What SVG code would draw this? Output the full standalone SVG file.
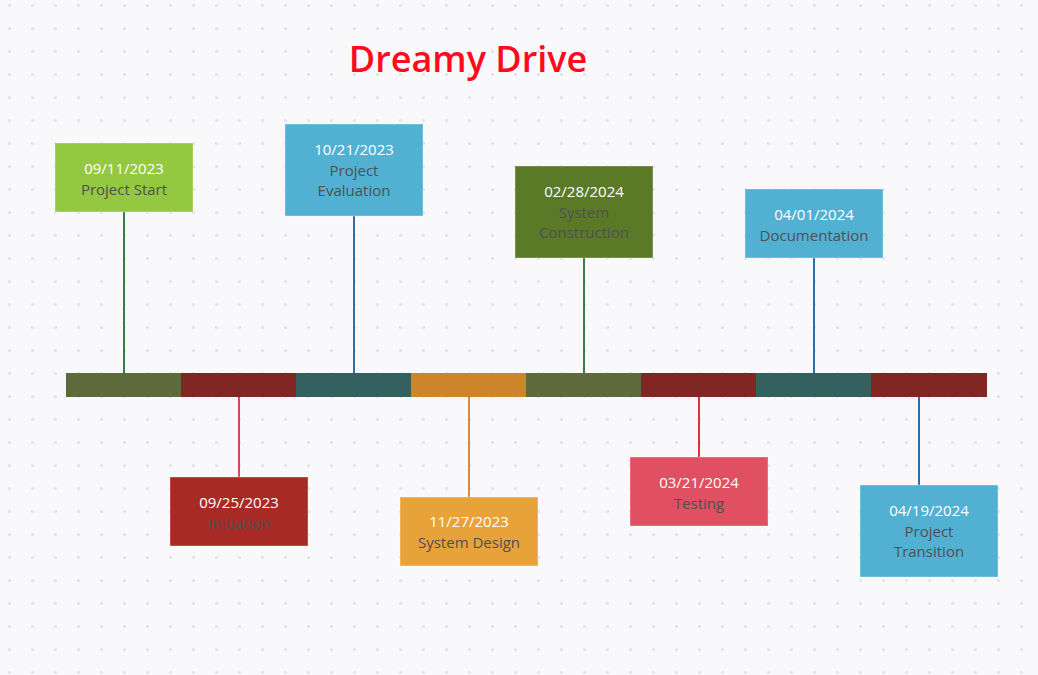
<svg xmlns="http://www.w3.org/2000/svg" width="1038" height="675" viewBox="0 0 1038 675">
<defs>
<pattern id="dots" x="0" y="0" width="23" height="23" patternUnits="userSpaceOnUse">
<circle cx="9.5" cy="5.5" r="1.6" fill="#e2e2e8"/>
</pattern>
<style>
.box{stroke:#ffffff;stroke-opacity:0.35;stroke-width:1}
.d{font-family:"Open Sans","Noto Sans","Liberation Sans",sans-serif;font-size:15px;fill:#ffffff;text-anchor:middle}
.l{font-family:"Open Sans","Noto Sans","Liberation Sans",sans-serif;font-size:15px;fill:#505050;text-anchor:middle}
.stem{stroke-width:2;fill:none}
</style>
</defs>
<rect width="1038" height="675" fill="#f9f9fb"/>
<rect width="1038" height="675" fill="url(#dots)"/>
<text x="468" y="72" font-family="'Open Sans','Noto Sans',sans-serif" font-size="36" font-weight="600" fill="#ff0a1e" text-anchor="middle">Dreamy Drive</text>

<g id="connectors">
<line class="stem" x1="124" y1="212" x2="124" y2="373" stroke="#3a7d44"/>
<line class="stem" x1="354" y1="216" x2="354" y2="373" stroke="#2f6ea8"/>
<line class="stem" x1="584" y1="258" x2="584" y2="373" stroke="#3a7d44"/>
<line class="stem" x1="814" y1="258" x2="814" y2="373" stroke="#2f6ea8"/>
<line class="stem" x1="239" y1="397" x2="239" y2="477" stroke="#d9475a"/>
<line class="stem" x1="469" y1="397" x2="469" y2="497" stroke="#d98a3a"/>
<line class="stem" x1="699" y1="397" x2="699" y2="457" stroke="#d9343a"/>
<line class="stem" x1="919" y1="397" x2="919" y2="485" stroke="#2f6ea8"/>
</g>

<g id="timeline">
<rect x="66" y="373" width="115" height="24" fill="#5e6a3b"/>
<rect x="181" y="373" width="115" height="24" fill="#812723"/>
<rect x="296" y="373" width="115" height="24" fill="#356060"/>
<rect x="411" y="373" width="115" height="24" fill="#cc8629"/>
<rect x="526" y="373" width="115" height="24" fill="#5e6a3b"/>
<rect x="641" y="373" width="115" height="24" fill="#812723"/>
<rect x="756" y="373" width="115" height="24" fill="#356060"/>
<rect x="871" y="373" width="116" height="24" fill="#812723"/>
</g>

<g id="n1">
<rect class="box" x="55" y="143" width="138" height="69" fill="#94c840"/>
<text class="d" x="124" y="174">09/11/2023</text>
<text class="l" x="124" y="195">Project Start</text>
</g>
<g id="n2">
<rect class="box" x="285" y="124" width="138" height="92" fill="#52b1d2"/>
<text class="d" x="354" y="155">10/21/2023</text>
<text class="l" x="354" y="176">Project</text>
<text class="l" x="354" y="196">Evaluation</text>
</g>
<g id="n3">
<rect class="box" x="515" y="166" width="138" height="92" fill="#5a7a28"/>
<text class="d" x="584" y="197">02/28/2024</text>
<text class="l" x="584" y="218">System</text>
<text class="l" x="584" y="238">Construction</text>
</g>
<g id="n4">
<rect class="box" x="745" y="189" width="138" height="69" fill="#52b1d2"/>
<text class="d" x="814" y="220">04/01/2024</text>
<text class="l" x="814" y="241">Documentation</text>
</g>
<g id="n5">
<rect class="box" x="170" y="477" width="138" height="69" fill="#a82a25"/>
<text class="d" x="239" y="508">09/25/2023</text>
<text class="l" x="239" y="529">Initiation</text>
</g>
<g id="n6">
<rect class="box" x="400" y="497" width="138" height="69" fill="#e8a23a"/>
<text class="d" x="469" y="527">11/27/2023</text>
<text class="l" x="469" y="548">System Design</text>
</g>
<g id="n7">
<rect class="box" x="630" y="457" width="138" height="69" fill="#e04f62"/>
<text class="d" x="699" y="488">03/21/2024</text>
<text class="l" x="699" y="509">Testing</text>
</g>
<g id="n8">
<rect class="box" x="860" y="485" width="138" height="92" fill="#52b1d2"/>
<text class="d" x="929" y="516">04/19/2024</text>
<text class="l" x="929" y="537">Project</text>
<text class="l" x="929" y="557">Transition</text>
</g>
</svg>
